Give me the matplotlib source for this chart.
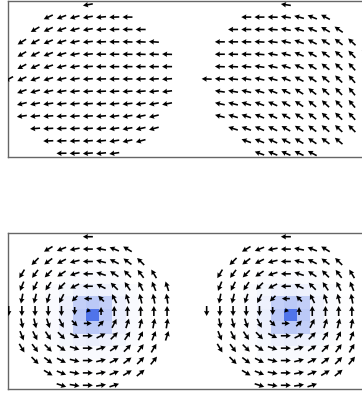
import numpy as np
import matplotlib
matplotlib.use("Agg")
import matplotlib.pyplot as plt
from matplotlib.colors import LinearSegmentedColormap

# Disk mask: first and last column offset of every row, top row first
row_extents = [(0, 0), (-3, 3), (-4, 4), (-5, 5), (-5, 6), (-5, 6), (-6, 6),
               (-5, 6), (-5, 6), (-5, 5), (-4, 5), (-3, 4), (-2, 2)]
row_offsets = [6, 5, 4, 3, 2, 1, 0, -1, -2, -3, -4, -5, -6]
disk_centers = [0, 15]

# In-plane magnetisation angle (degrees), upper panel, left disk
top_left_angles = [
    [190],
    [205, 200, 195, 190, 185, 182, 180],
    [210, 205, 200, 195, 190, 185, 182, 180, 180],
    [212, 208, 203, 198, 192, 186, 182, 180, 178, 178, 176],
    [210, 206, 201, 196, 190, 185, 181, 180, 179, 178, 178, 178],
    [208, 204, 199, 194, 189, 184, 181, 180, 180, 180, 180, 180],
    [208, 205, 201, 197, 193, 188, 184, 182, 181, 181, 182, 183, 184],
    [200, 196, 192, 189, 186, 184, 183, 183, 184, 185, 186, 187],
    [194, 191, 188, 186, 185, 184, 184, 185, 186, 188, 190, 191],
    [188, 186, 185, 184, 184, 184, 185, 187, 189, 191, 193],
    [184, 183, 183, 183, 184, 186, 188, 190, 193, 195],
    [182, 182, 183, 184, 186, 189, 192, 195],
    [181, 182, 184, 186, 188],
]

# In-plane magnetisation angle (degrees), upper panel, right disk
top_right_angles = [
    [172],
    [180, 180, 178, 172, 165, 158, 152],
    [180, 180, 179, 176, 170, 163, 156, 150, 145],
    [180, 180, 179, 177, 173, 167, 160, 153, 147, 142, 137],
    [180, 179, 178, 175, 170, 164, 157, 150, 144, 139, 134, 130],
    [178, 177, 175, 172, 167, 161, 155, 148, 142, 137, 132, 128],
    [178, 176, 174, 172, 168, 164, 158, 152, 146, 140, 135, 130, 127],
    [172, 170, 167, 163, 158, 153, 147, 142, 137, 133, 129, 126],
    [168, 166, 163, 160, 156, 151, 146, 141, 137, 133, 130, 127],
    [165, 163, 161, 158, 154, 150, 146, 142, 138, 135, 132],
    [162, 160, 157, 154, 150, 147, 143, 140, 137, 135],
    [160, 158, 155, 152, 149, 146, 143, 140],
    [160, 158, 156, 154, 152],
]

# In-plane magnetisation angle (degrees), lower panel, vortex state
vortex_angles = [
    [180],
    [211, 202, 191, 180, 169, 158, 149],
    [225, 217, 207, 194, 180, 166, 153, 143, 135],
    [239, 233, 225, 214, 198, 180, 162, 146, 135, 127, 121],
    [248, 243, 236, 225, 207, 180, 153, 135, 124, 117, 112, 108],
    [259, 256, 252, 243, 225, 180, 135, 117, 108, 104, 101, 99],
    [270, 270, 270, 270, 270, 270, 225, 90, 90, 90, 90, 90, 90],
    [281, 284, 288, 297, 315, 0, 45, 63, 72, 76, 79, 81],
    [292, 297, 304, 315, 333, 0, 27, 45, 56, 63, 68, 72],
    [301, 307, 315, 326, 342, 0, 18, 34, 45, 53, 59],
    [315, 323, 333, 346, 0, 14, 27, 37, 45, 51],
    [329, 338, 349, 0, 11, 22, 31, 39],
    [342, 351, 0, 9, 18],
]

# Relative arrow length in the 3x3 cells around the vortex core
core_lengths = [[0.8, 0.8, 0.8],
                [0.8, 0.45, 0.8],
                [0.8, 0.8, 0.8]]

# Out-of-plane component around the vortex core (9x9 cells)
mz_core = [
    [0.00, 0.00, 0.00, 0.01, 0.01, 0.01, 0.00, 0.00, 0.00],
    [0.00, 0.00, 0.02, 0.03, 0.03, 0.03, 0.02, 0.00, 0.00],
    [0.00, 0.02, 0.05, 0.08, 0.09, 0.08, 0.05, 0.02, 0.00],
    [0.01, 0.03, 0.08, 0.28, 0.32, 0.28, 0.08, 0.03, 0.01],
    [0.01, 0.03, 0.09, 0.32, 0.82, 0.32, 0.09, 0.03, 0.01],
    [0.01, 0.03, 0.08, 0.28, 0.32, 0.28, 0.08, 0.03, 0.01],
    [0.00, 0.02, 0.05, 0.08, 0.09, 0.08, 0.05, 0.02, 0.00],
    [0.00, 0.00, 0.02, 0.03, 0.03, 0.03, 0.02, 0.00, 0.00],
    [0.00, 0.00, 0.00, 0.01, 0.01, 0.01, 0.00, 0.00, 0.00],
]
core_shift = (0.35, -0.35)

mz_cmap = LinearSegmentedColormap.from_list("mz", ["#ffffff", "#2a56e6"])


def disk_field(cx, angles, lengths=None):
    xs, ys, us, vs = [], [], [], []
    for r, (k0, k1) in enumerate(row_extents):
        y = row_offsets[r]
        for i, k in enumerate(range(k0, k1 + 1)):
            a = np.deg2rad(angles[r][i])
            m = 1.0
            if lengths is not None and abs(k) <= 1 and abs(y) <= 1:
                m = lengths[1 - y][k + 1]
            xs.append(cx + k)
            ys.append(y)
            us.append(m * np.cos(a))
            vs.append(m * np.sin(a))
    return xs, ys, us, vs


fig = plt.figure(figsize=(3.62, 3.95), dpi=100)
W, H = 362.0, 395.0
x_left, x_right = -6.05, 21.5
y_lim = 6.3
px_per_unit = 13.2
ax_w = (x_right - x_left) * px_per_unit / W

ax_top = fig.add_axes([8 / W, (H - 157) / H, ax_w, 156 / H])
ax_bot = fig.add_axes([8 / W, (H - 389) / H, ax_w, 156 / H])

qkw = dict(angles="uv", pivot="middle", units="dots", scale_units="dots",
           scale=1 / 10.0, width=1.6, headwidth=3.4, headlength=3.2,
           headaxislength=2.9, color="black", zorder=3)

for cx, ang in zip(disk_centers, [top_left_angles, top_right_angles]):
    X, Y, U, V = disk_field(cx, ang)
    ax_top.quiver(X, Y, U, V, **qkw)

for cx in disk_centers:
    dx, dy = core_shift
    ax_bot.imshow(np.array(mz_core), cmap=mz_cmap, vmin=0, vmax=1,
                  interpolation="nearest", aspect="auto", zorder=0,
                  extent=(cx - 4.5 + dx, cx + 4.5 + dx, -4.5 + dy, 4.5 + dy))
    X, Y, U, V = disk_field(cx, vortex_angles, core_lengths)
    ax_bot.quiver(X, Y, U, V, **qkw)

for ax in (ax_top, ax_bot):
    ax.set_xlim(x_left, x_right)
    ax.set_ylim(-y_lim, y_lim)
    ax.set_xticks([])
    ax.set_yticks([])
    for s in ax.spines.values():
        s.set_color("#666666")
        s.set_linewidth(1.0)

fig.savefig("out.png", dpi=100)
